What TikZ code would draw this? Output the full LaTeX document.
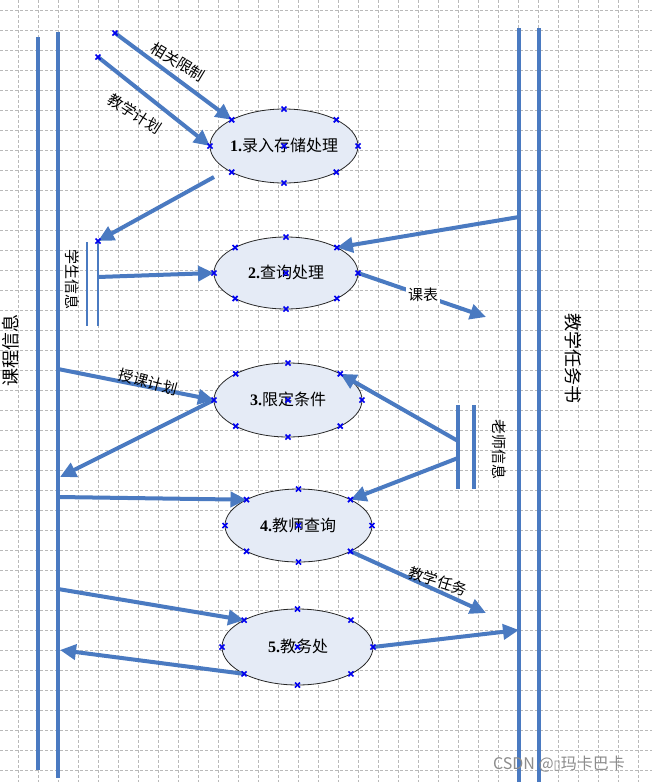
\documentclass[tikz,border=0pt]{standalone}
\usepackage{fontspec}
\setmainfont{Liberation Serif}
\newfontfamily\cjk{Noto Sans CJK SC}
\newfontfamily\djv{DejaVu Sans}
\usetikzlibrary{arrows.meta,shapes.geometric}
\definecolor{flowblue}{RGB}{74,122,193}
\definecolor{ellfill}{RGB}{229,235,246}
\definecolor{gridgray}{RGB}{185,185,185}
\definecolor{mkblue}{RGB}{0,0,240}
\begin{document}
\begin{tikzpicture}[x=1pt,y=-1pt,
  gridline/.style={gridgray, line width=0.8pt, dash pattern=on 3pt off 2pt},
  bar/.style={flowblue, line width=4pt},
  thinbar/.style={flowblue, line width=1.4pt},
  flow/.style={flowblue, line width=4pt, -{Triangle[length=16pt,width=15pt]}},
  proc/.style={ellipse, draw=black!85, line width=0.8pt, fill=ellfill, inner sep=0pt, outer sep=0pt},
  ptext/.style={font=\fontsize{16}{16}\selectfont, inner sep=0pt},
  lab/.style={font=\cjk\fontsize{15}{15}\selectfont, inner sep=1pt},
  biglab/.style={font=\cjk\fontsize{18}{18}\selectfont, inner sep=1pt},
  mk/.style={mkblue, line width=1.7pt}
]
\useasboundingbox (0,0) rectangle (652,782);
\fill[white] (0,0) rectangle (652,782);
% grid
\foreach \gx in {18,38,...,638} \draw[gridline] (\gx,0) -- (\gx,782);
\foreach \gy in {10,30,...,770} \draw[gridline] (0,\gy) -- (652,\gy);

% side double lines
\coordinate (L1t) at (38,37);  \coordinate (L1b) at (38,770);
\coordinate (L2t) at (58,32);  \coordinate (L2b) at (58,778);
\coordinate (R1t) at (519,28); \coordinate (R1b) at (519,782);
\coordinate (R2t) at (539,28); \coordinate (R2b) at (539,782);
\draw[bar] (L1t) -- (L1b);
\draw[bar] (L2t) -- (L2b);
\draw[bar] (R1t) -- (R1b);
\draw[bar] (R2t) -- (R2b);
\node[biglab, rotate=90] (kcxx) at (11,350) {课程信息};
\node[biglab, rotate=-90] (jxrws) at (573,358) {教学任务书};

% student info store
\coordinate (S1t) at (87,242); \coordinate (S1b) at (87,326);
\coordinate (S2t) at (98,242); \coordinate (S2b) at (98,326);
\draw[thinbar] (S1t) -- (S1b);
\draw[thinbar] (S2t) -- (S2b);
\node[lab, rotate=-90] (xsxx) at (72,279) {学生信息};

% teacher info store
\coordinate (T1t) at (458,405); \coordinate (T1b) at (458,489);
\coordinate (T2t) at (474,405); \coordinate (T2b) at (474,489);
\draw[bar] (T1t) -- (T1b);
\draw[bar] (T2t) -- (T2b);
\node[lab, rotate=-90] (lsxx) at (499,449) {老师信息};

% processes
\node[proc, minimum width=148pt, minimum height=74pt] (e1) at (284,146) {};
\node[proc, minimum width=144pt, minimum height=72pt] (e2) at (286,273) {};
\node[proc, minimum width=148pt, minimum height=74pt] (e3) at (288,400) {};
\node[proc, minimum width=147pt, minimum height=73pt] (e4) at (298.5,525.5) {};
\node[proc, minimum width=151pt, minimum height=76pt] (e5) at (297.5,647) {};
\node[ptext] (t1) at (284,145) {\textbf{1.}{\cjk 录入存储处理}};
\node[ptext] (t2) at (286,272) {\textbf{2.}{\cjk 查询处理}};
\node[ptext] (t3) at (288,399) {\textbf{3.}{\cjk 限定条件}};
\node[ptext] (t4) at (298,525) {\textbf{4.}{\cjk 教师查询}};
\node[ptext] (t5) at (298,646) {\textbf{5.}{\cjk 教务处}};

% free coordinates
\coordinate (a1) at (115,33);
\coordinate (a2) at (98,57);
\coordinate (c1) at (214,177);
\coordinate (st) at (98,241);
\coordinate (sm) at (98,277);
\coordinate (r1) at (519,217);
\coordinate (kb) at (486,317);
\coordinate (g1) at (58,369);
\coordinate (h1) at (60,477);
\coordinate (tj) at (458,441);
\coordinate (tk) at (458,458);
\coordinate (l1) at (58,497);
\coordinate (m1) at (486,613);
\coordinate (n1) at (58,589);
\coordinate (o1) at (60,650);
\coordinate (p1) at (519,630);

% flows
\draw[flow] (a1) -- (e1.north west);
\draw[flow] (a2) -- (e1.west);
\draw[flow] (c1) -- (st);
\draw[flow] (sm) -- (e2.west);
\draw[flow] (r1) -- (e2.north east);
\draw[flow] (e2.east) -- (kb);
\draw[flow] (g1) -- (e3.west);
\draw[flow] (e3.west) -- (h1);
\draw[flow] (tj) -- (e3.north east);
\draw[flow] (tk) -- (e4.north east);
\draw[flow] (l1) -- (e4.north west);
\draw[flow] (e4.south east) -- (m1);
\draw[flow] (n1) -- (e5.north west);
\draw[flow] (e5.south west) -- (o1);
\draw[flow] (e5.east) -- (p1);

% flow labels
\node[lab, rotate=-31] (xgxz) at (178,62) {相关限制};
\node[lab, rotate=-33] (jxjh) at (135,114) {教学计划};
\node[lab, fill=white, inner sep=2pt] (kbl) at (423,295) {课表};
\node[lab, rotate=-15] (skjh) at (148,382) {授课计划};
\node[lab, rotate=-18] (jxrw) at (438,581) {教学任务};

% connection markers
\foreach \e in {e1,e2,e3,e4,e5}
  \foreach \a in {center,north,south,east,west,north east,north west,south east,south west}
  {
    \draw[mk] ([shift={(-2.5pt,-2.5pt)}]\e.\a) -- ([shift={(2.5pt,2.5pt)}]\e.\a);
    \draw[mk] ([shift={(-2.5pt,2.5pt)}]\e.\a) -- ([shift={(2.5pt,-2.5pt)}]\e.\a);
  }
\foreach \p in {a1,a2,st}
  {
    \draw[mk] ([shift={(-2.5pt,-2.5pt)}]\p) -- ([shift={(2.5pt,2.5pt)}]\p);
    \draw[mk] ([shift={(-2.5pt,2.5pt)}]\p) -- ([shift={(2.5pt,-2.5pt)}]\p);
  }

% watermark
\node[font=\cjk\fontsize{16}{16}\selectfont, text=black!45, inner sep=0pt] (wm) at (559,764) {CSDN @{\djv\fontsize{13}{13}\selectfont ▯}玛卡巴卡};
\end{tikzpicture}
\end{document}
